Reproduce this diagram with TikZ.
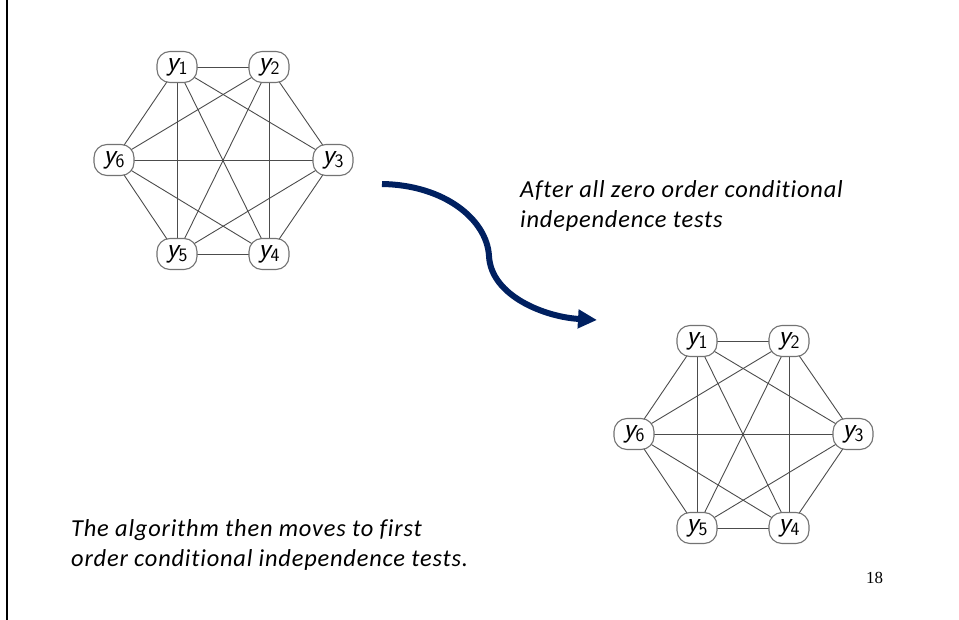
\documentclass[tikz,border=0pt]{standalone}
\usepackage{fontspec}
\newfontfamily\notefont[Ligatures=NoCommon,LetterSpace=3.3]{Carlito}
\newfontfamily\pagefont{Liberation Serif}
\usetikzlibrary{arrows.meta,backgrounds}
\definecolor{navy}{RGB}{0,32,96}
% variable label: sans italic y with an upright sans index
\newcommand{\yvar}[1]{{\itshape y}\raisebox{-0.35ex}{\fontsize{19}{19}\selectfont\upshape #1}}
\tikzset{
  vnode/.style={draw=black!55, line width=1.1bp, fill=white, rounded corners=13bp,
    minimum width=40bp, minimum height=31bp, inner sep=0pt,
    font=\fontsize{28}{28}\selectfont\sffamily},
  link/.style={draw=black!70, line width=0.9bp},
  flow/.style={draw=navy, line width=6bp, -{Triangle[length=19bp,width=18bp]}},
  note/.style={font=\notefont\itshape\fontsize{24.5}{30}\selectfont, align=left,
    inner sep=0pt, anchor=north west}
}
\begin{document}
\begin{tikzpicture}[x=1bp,y=-1bp]
\useasboundingbox (0,0) rectangle (959,620);
\draw[line width=2.5bp] (7,0) -- (7,620);

% two complete graphs on six variables
\foreach \g/\dx/\dy in {a/0/0, b/520/274}{
  \begin{scope}[shift={(\dx,\dy)}]
    \node[vnode] (\g1) at (177,67)  {\yvar{1}};
    \node[vnode] (\g2) at (269,67)  {\yvar{2}};
    \node[vnode] (\g3) at (333,160) {\yvar{3}};
    \node[vnode] (\g4) at (269,254) {\yvar{4}};
    \node[vnode] (\g5) at (177,254) {\yvar{5}};
    \node[vnode] (\g6) at (114,160) {\yvar{6}};
  \end{scope}
  \begin{scope}[on background layer]
    \foreach \u/\v in {1/2,1/3,1/4,1/5,1/6,2/3,2/4,2/5,2/6,3/4,3/5,3/6,4/5,4/6,5/6}{
      \draw[link] (\g\u.center) -- (\g\v.center);
    }
  \end{scope}
}

% curved transition arrow
\coordinate (from) at (382,184);
\coordinate (bend) at (489,256);
\coordinate (to) at (597,320);
\draw[flow] (from) .. controls (445,185) and (487,220) .. (bend)
  .. controls (491,296) and (545,317) .. (to);

\node[note] (upper) at (520,180) {After all zero order conditional\\independence tests};
\node[note] (lower) at (71,519) {The algorithm then moves to first\\order conditional independence tests.};
\node[anchor=base west, inner sep=0pt, font=\pagefont\fontsize{17}{17}\selectfont] (page) at (866,583) {18};
\end{tikzpicture}
\end{document}
